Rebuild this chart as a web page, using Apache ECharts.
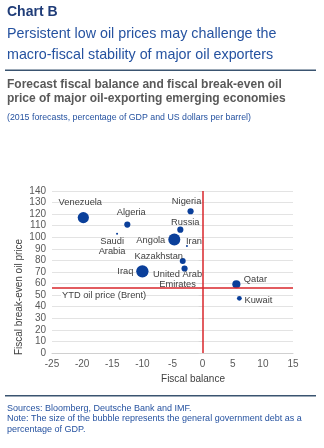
<!DOCTYPE html>
<html><head><meta charset="utf-8">
<script src="https://cdn.jsdelivr.net/npm/echarts@6/dist/echarts.min.js"></script>
<style>html,body{margin:0;padding:0;background:#fff}#c{width:324px;height:448px}</style>
</head><body><div id="c"></div>
<script>
var countries = ['Venezuela','Algeria','Saudi\nArabia','Nigeria','Russia','Angola','Iran','Kazakhstan','United Arab\nEmirates','Iraq','Qatar','Kuwait'];
var fiscalBalance = [-19.8,-12.5,-14.2,-2.0,-3.7,-4.7,-2.6,-3.3,-3.0,-10.0,5.6,6.1];
var breakEven = [117,111,103,122.5,106.6,98,92.5,79.5,73,70.6,59.4,47.3];
var debtPct = [50,15,1.5,15,15,57,1.5,14,15,60,26,9];
var brentPrice = 56;
var xTicks = {min:-25,max:15,interval:5};
var yTicks = {min:0,max:140,interval:10};

var labelOffsets = {
  'Venezuela':[-3,-15],'Algeria':[4,-12],'Saudi\nArabia':[-5,12.5],'Nigeria':[-4,-10],
  'Russia':[5,-7],'Angola':[-23.5,1],'Iran':[7,-5],'Kazakhstan':[-24,-5],
  'United Arab\nEmirates':[-7,11],'Iraq':[-17,0],'Qatar':[19,-5],'Kuwait':[19,2]
};
var F = 'Liberation Sans, Arial, sans-serif';
var data = countries.map(function(n,i){
  return {name:n,value:[fiscalBalance[i],breakEven[i],debtPct[i]],
    label:{show:true,position:'inside',offset:labelOffsets[n],formatter:n,
      color:'#404040',fontSize:9.3,fontFamily:F,lineHeight:10.5,align:'center',verticalAlign:'middle'}};
});
var chart = echarts.init(document.getElementById('c'));
chart.setOption({
  animation:false,
  grid:{left:52,right:31,top:191,bottom:95},
  xAxis:{type:'value',min:xTicks.min,max:xTicks.max,interval:xTicks.interval,
    axisLine:{show:true,onZero:false,lineStyle:{color:'#d0d0d0'}},axisTick:{show:false},
    axisLabel:{color:'#595959',fontSize:10,fontFamily:F,margin:6},
    splitLine:{show:false}},
  yAxis:{type:'value',min:yTicks.min,max:yTicks.max,interval:yTicks.interval,
    axisLine:{show:false},axisTick:{show:true,length:4,inside:false,lineStyle:{color:'#d9d9d9'}},
    axisLabel:{color:'#595959',fontSize:10,fontFamily:F,margin:6},
    splitLine:{lineStyle:{color:'#e3e3e3'}}},
  graphic:[
    {type:'text',left:7,top:5,style:{text:'Chart B',fill:'#1f3c78',font:'bold 14px '+F}},
    {type:'text',left:7,top:24,style:{text:'Persistent low oil prices may challenge the\nmacro-fiscal stability of major oil exporters',fill:'#2552a0',font:'14.3px '+F,lineHeight:21}},
    {type:'rect',shape:{x:5,y:69.5,width:311,height:1.5},style:{fill:'#3a5470'}},
    {type:'text',left:7,top:78,style:{text:'Forecast fiscal balance and fiscal break-even oil\nprice of major oil-exporting emerging economies',fill:'#595959',font:'bold 12px '+F,lineHeight:14}},
    {type:'text',left:7,top:113,style:{text:'(2015 forecasts, percentage of GDP and US dollars per barrel)',fill:'#2552a0',font:'8.8px '+F}},
    {type:'text',x:19,y:297,rotation:Math.PI/2,style:{text:'Fiscal break-even oil price',fill:'#404040',font:'10px '+F,align:'center',verticalAlign:'middle'}},
    {type:'text',x:193,y:379,style:{text:'Fiscal balance',fill:'#404040',font:'10px '+F,align:'center',verticalAlign:'middle'}},
    {type:'rect',z:100,shape:{x:61,y:291,width:84,height:11},style:{fill:'#fff'}},
    {type:'text',z:101,left:62,top:291,style:{text:'YTD oil price (Brent)',fill:'#404040',font:'9.3px '+F}},
    {type:'rect',shape:{x:5,y:395,width:311,height:1.5},style:{fill:'#3a5470'}},
    {type:'text',left:7,top:403.5,style:{text:'Sources: Bloomberg, Deutsche Bank and IMF.\nNote: The size of the bubble represents the general government debt as a\npercentage of GDP.',fill:'#2552a0',font:'9px '+F,lineHeight:10.3}}
  ],
  series:[{
    type:'scatter',data:data,
    symbolSize:function(v){return Math.max(2,1.59*Math.sqrt(v[2]));},
    itemStyle:{color:'#0a3f9a',opacity:1},
    markLine:{silent:true,symbol:'none',label:{show:false},
      lineStyle:{color:'#d9262b',width:1.5,type:'solid'},
      data:[{yAxis:brentPrice},{xAxis:0}]}
  }]
});
</script></body></html>
